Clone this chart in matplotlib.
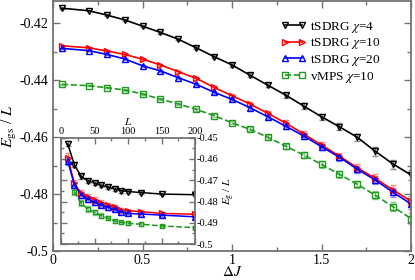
import matplotlib
matplotlib.use("Agg")
import matplotlib.pyplot as plt
from matplotlib.ticker import MultipleLocator, FuncFormatter

plt.rcParams['font.family'] = ['Liberation Serif', 'DejaVu Serif']
plt.rcParams['mathtext.fontset'] = 'stix'
plt.rcParams['axes.unicode_minus'] = False

# ---- main panel data ----
dJ = [0.05, 0.2, 0.3, 0.4, 0.5, 0.6, 0.7, 0.8, 0.9, 1.0,
      1.1, 1.2, 1.3, 1.4, 1.5, 1.6, 1.7, 1.8, 1.9, 2.0]
chi4 = [-0.4148, -0.4157, -0.4172, -0.4189, -0.4211, -0.4233, -0.4257, -0.4287, -0.4318, -0.4347,
        -0.4383, -0.4418, -0.4453, -0.4491, -0.4529, -0.4564, -0.4601, -0.4650, -0.4695, -0.4733]
chi4_err = [0.0002, 0.0002, 0.0002, 0.0003, 0.0003, 0.0004, 0.0004, 0.0005, 0.0005, 0.0006,
            0.0007, 0.0008, 0.0009, 0.0010, 0.0011, 0.0012, 0.0013, 0.0015, 0.0016, 0.0018]
chi10 = [-0.4280, -0.4287, -0.4298, -0.4310, -0.4327, -0.4347, -0.4371, -0.4394, -0.4426, -0.4455,
         -0.4484, -0.4517, -0.4551, -0.4589, -0.4628, -0.4667, -0.4708, -0.4745, -0.4786, -0.4825]
chi10_err = [0.0002, 0.0002, 0.0002, 0.0003, 0.0003, 0.0004, 0.0004, 0.0005, 0.0005, 0.0006,
             0.0007, 0.0008, 0.0009, 0.0010, 0.0011, 0.0012, 0.0013, 0.0015, 0.0016, 0.0018]
chi20 = [-0.4289, -0.4297, -0.4310, -0.4326, -0.4350, -0.4368, -0.4392, -0.4415, -0.4443, -0.4468,
         -0.4497, -0.4529, -0.4562, -0.4596, -0.4634, -0.4671, -0.4713, -0.4751, -0.4794, -0.4835]
chi20_err = [0.0002, 0.0002, 0.0002, 0.0003, 0.0003, 0.0004, 0.0004, 0.0005, 0.0005, 0.0006,
             0.0007, 0.0008, 0.0009, 0.0010, 0.0011, 0.0012, 0.0013, 0.0015, 0.0016, 0.0018]
vmps = [-0.4415, -0.4420, -0.4427, -0.4435, -0.4449, -0.4467, -0.4484, -0.4503, -0.4525, -0.4550,
        -0.4573, -0.4601, -0.4632, -0.4663, -0.4696, -0.4731, -0.4766, -0.4804, -0.4845, -0.4886]
vmps_err = [0.0002, 0.0002, 0.0002, 0.0003, 0.0003, 0.0004, 0.0004, 0.0005, 0.0005, 0.0006,
            0.0007, 0.0008, 0.0009, 0.0010, 0.0011, 0.0012, 0.0013, 0.0015, 0.0016, 0.0018]

labels = ['tSDRG $\\chi$=4', 'tSDRG $\\chi$=10', 'tSDRG $\\chi$=20', 'vMPS $\\chi$=10']

# ---- inset data ----
L_vals = [10, 20, 30, 40, 50, 60, 70, 80, 90, 100, 120, 150, 200]
in_chi4 = [-0.4529, -0.4627, -0.4682, -0.4702, -0.4713, -0.4724, -0.4732, -0.4741, -0.4749, -0.4753,
           -0.4758, -0.4765, -0.4768]
in_chi4_err = [0.0012, 0.0012, 0.0010, 0.0010, 0.0010, 0.0010, 0.0010, 0.0009, 0.0009, 0.0008,
               0.0007, 0.0006, 0.0006]
in_chi10 = [-0.4594, -0.4714, -0.4761, -0.4777, -0.4793, -0.4806, -0.4816, -0.4827, -0.4840, -0.4843,
            -0.4848, -0.4856, -0.4860]
in_chi10_err = [0.0020, 0.0016, 0.0014, 0.0013, 0.0012, 0.0012, 0.0011, 0.0010, 0.0010, 0.0009,
                0.0008, 0.0007, 0.0007]
in_chi20 = [-0.4609, -0.4722, -0.4769, -0.4788, -0.4804, -0.4816, -0.4827, -0.4837, -0.4848, -0.4856,
            -0.4859, -0.4864, -0.4872]
in_chi20_err = [0.0020, 0.0016, 0.0014, 0.0013, 0.0012, 0.0012, 0.0011, 0.0010, 0.0010, 0.0009,
                0.0008, 0.0007, 0.0007]
L_vmps = [20, 30, 40, 50, 60, 70, 80, 90, 100, 120, 150, 200]
in_vmps = [-0.4755, -0.4808, -0.4835, -0.4851, -0.4867, -0.4879, -0.4891, -0.4898, -0.4903, -0.4907,
           -0.4915, -0.4923]
in_vmps_err = [0.0016, 0.0014, 0.0013, 0.0012, 0.0011, 0.0010, 0.0009, 0.0008, 0.0008, 0.0007,
               0.0006, 0.0006]

W, H = 415, 280
fig = plt.figure(figsize=(W / 100, H / 100), dpi=100)

def px_axes(l, t, r, b):
    return fig.add_axes([l / W, 1 - b / H, (r - l) / W, (b - t) / H])

spine_col = '0.45'
styles = [
    dict(color='black', marker='v', ls='-', ecolor=(0.55, 0.55, 0.55)),
    dict(color='red', marker='>', ls='-', ecolor=(1.0, 0.55, 0.55)),
    dict(color='blue', marker='^', ls='-', ecolor=(0.55, 0.55, 1.0)),
    dict(color='#1f9a1f', marker='s', ls='--', ecolor=(0.55, 0.80, 0.55)),
]

def style_axes(ax, fs):
    for s in ax.spines.values():
        s.set_color(spine_col)
        s.set_linewidth(1.3)
    ax.tick_params(which='both', direction='in', top=True, right=True, bottom=True, left=True,
                   color=spine_col, labelsize=fs, width=1.0)
    ax.tick_params(which='major', length=5)
    ax.tick_params(which='minor', length=3)

ax = px_axes(53, 0.5, 411, 251)
series = [(chi4, chi4_err), (chi10, chi10_err), (chi20, chi20_err), (vmps, vmps_err)]
for (y, e), st, lab in zip(series, styles, labels):
    ms = 4 if st['marker'] == 's' else 5
    ax.errorbar(dJ, y, yerr=e, color=st['color'], marker=st['marker'], ls=st['ls'], lw=1.2,
                ms=ms, mfc='none', mec=st['color'], mew=1.0, ecolor=st['ecolor'],
                elinewidth=1.0, capsize=2.5, capthick=1.0, label=lab)
ax.set_xlim(0, 2)
ax.set_ylim(-0.5, -0.4121)
ax.xaxis.set_major_locator(MultipleLocator(0.5))
ax.xaxis.set_minor_locator(MultipleLocator(0.25))
ax.yaxis.set_major_locator(MultipleLocator(0.02))
ax.yaxis.set_minor_locator(MultipleLocator(0.01))
fmt = FuncFormatter(lambda v, p: '%g' % round(v, 4))
ax.xaxis.set_major_formatter(fmt)
ax.yaxis.set_major_formatter(fmt)
style_axes(ax, 10)
ax.tick_params(axis='x', which='major', pad=2)
ax.set_xlabel('$\\Delta J$', fontsize=11, labelpad=-1)
ax.set_ylabel('$E_{\\rm gs}$ / $L$', fontsize=11.5, labelpad=0)

handles, labs = ax.get_legend_handles_labels()
handles = [h[0] for h in handles]
leg = ax.legend(handles, labs, loc='upper right', bbox_to_anchor=(0.94, 0.96), frameon=False,
                fontsize=9.5, numpoints=2, handlelength=1.9, handletextpad=0.3,
                labelspacing=0.12, borderaxespad=0.3)

# ---- inset ----
ins = px_axes(61, 137.75, 195, 244)
ins.set_facecolor('white')
iseries = [(L_vals, in_chi4, in_chi4_err), (L_vals, in_chi10, in_chi10_err),
           (L_vals, in_chi20, in_chi20_err), (L_vmps, in_vmps, in_vmps_err)]
for (x, y, e), st in zip(iseries, styles):
    ms = 3.5 if st['marker'] == 's' else 4.2
    ins.errorbar(x, y, yerr=e, color=st['color'], marker=st['marker'], ls=st['ls'], lw=1.1,
                 ms=ms, mfc='none', mec=st['color'], mew=1.0, ecolor=st['ecolor'],
                 elinewidth=1.0, capsize=2.5, capthick=1.0, clip_on=True)
ins.set_xlim(0, 200)
ins.set_ylim(-0.5, -0.45)
ins.xaxis.set_major_locator(MultipleLocator(50))
ins.xaxis.set_minor_locator(MultipleLocator(25))
ins.yaxis.set_major_locator(MultipleLocator(0.01))
ins.yaxis.set_minor_locator(MultipleLocator(0.005))
ins.xaxis.set_major_formatter(fmt)
ins.yaxis.set_major_formatter(fmt)
style_axes(ins, 7.5)
ins.tick_params(which='both', labelbottom=False, labelleft=False, labeltop=True, labelright=True,
                pad=1.5)
ins.tick_params(which='major', length=4)
ins.tick_params(which='minor', length=2.5)
ins.xaxis.set_label_position('top')
ins.yaxis.set_label_position('right')
ins.set_xlabel('$L$', fontsize=8, labelpad=1)
ins.set_ylabel('$E_{\\rm g}$ / $L$', fontsize=8, labelpad=2, rotation=90)

fig.savefig('out.png', dpi=100)
